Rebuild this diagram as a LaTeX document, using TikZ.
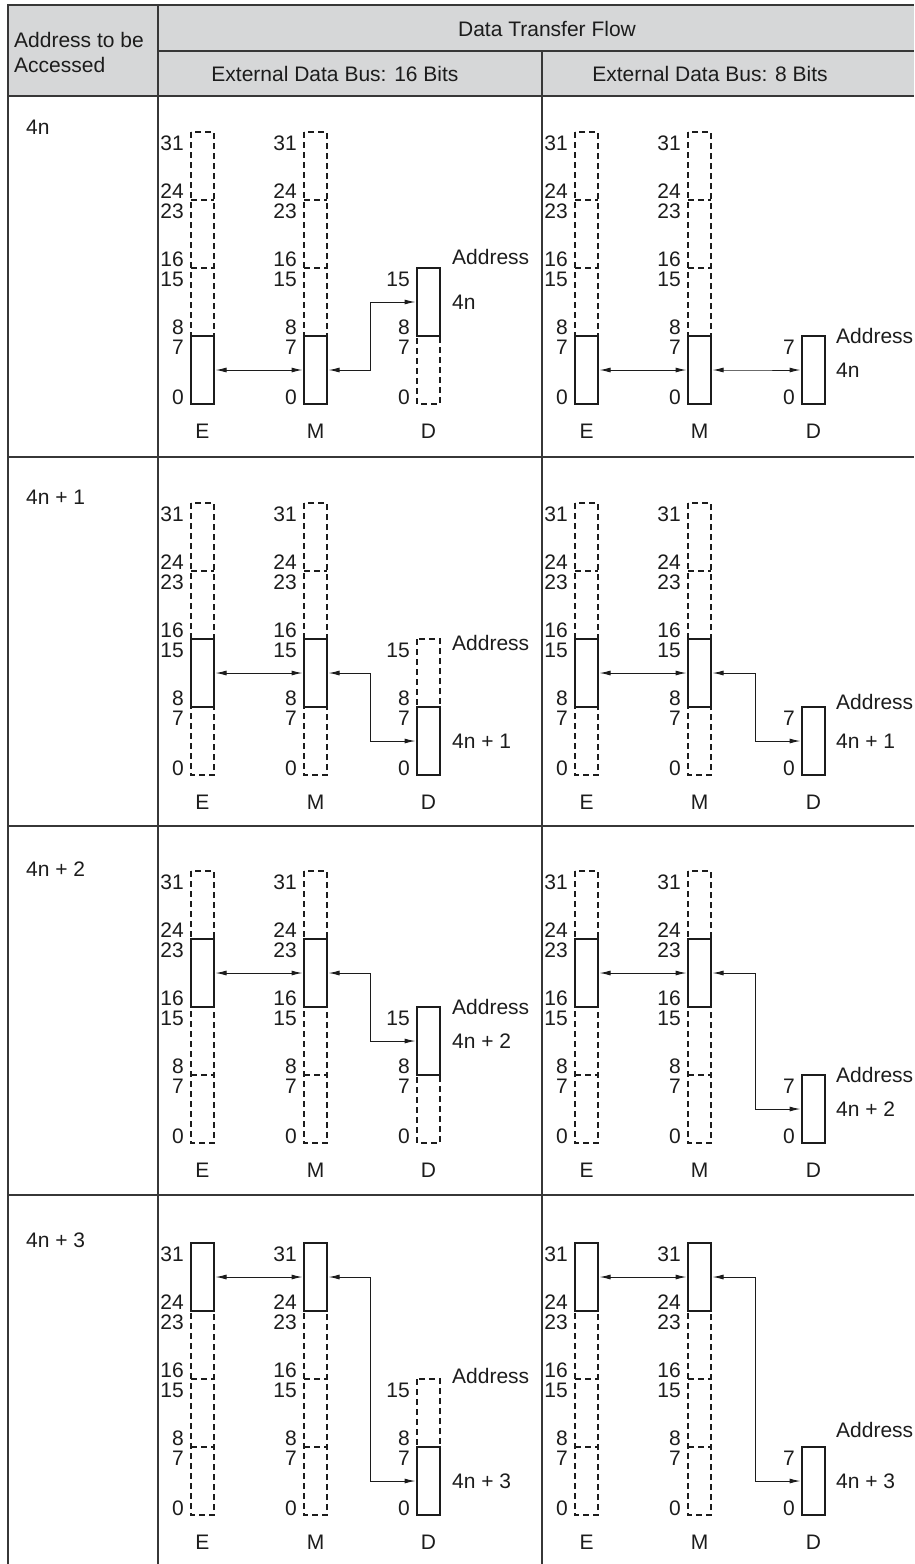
\documentclass[tikz,border=0pt]{standalone}
\usepackage{fontspec}
\setmainfont{Liberation Sans}
\usetikzlibrary{arrows.meta}
\definecolor{hdr}{RGB}{214,215,216}
\definecolor{ink}{RGB}{28,28,28}
\definecolor{rulec}{RGB}{55,55,55}
\tikzset{
  dsh/.style={draw=ink, line width=1.2pt, dash pattern=on 6pt off 4pt},
  solidbox/.style={draw=ink, line width=2.8pt, fill=white, minimum width=23pt, minimum height=68pt, inner sep=0pt, outer sep=0pt, anchor=north west},
  num/.style={anchor=east, inner sep=0pt, text=ink},
  lbl/.style={inner sep=0pt, text=ink},
  lblw/.style={anchor=west, inner sep=0pt, text=ink},
  arr/.style={draw=ink, line width=1pt, {Latex[length=11pt,width=5pt]}-{Latex[length=11pt,width=5pt]}, shorten <=1.5pt, shorten >=1.5pt},
  outerline/.style={draw=rulec, line width=2.8pt},
  innerline/.style={draw=rulec, line width=1.4pt},
}
% four-byte dashed column with its bit numbers
\newcommand\fourcol[3]{%
  \draw[dsh] (#2,#3) rectangle ++(23,272);
  \draw[dsh] (#2,{#3+68}) -- ++(23,0);
  \draw[dsh] (#2,{#3+136}) -- ++(23,0);
  \draw[dsh] (#2,{#3+204}) -- ++(23,0);
  \node[num] (#1n31) at ({#2-7},{#3+11}) {31};
  \node[num] (#1n24) at ({#2-7},{#3+59.5}) {24};
  \node[num] (#1n23) at ({#2-7},{#3+79}) {23};
  \node[num] (#1n16) at ({#2-7},{#3+127.5}) {16};
  \node[num] (#1n15) at ({#2-7},{#3+147}) {15};
  \node[num] (#1n8) at ({#2-7},{#3+195.5}) {8};
  \node[num] (#1n7) at ({#2-7},{#3+215}) {7};
  \node[num] (#1n0) at ({#2-7},{#3+265}) {0};
}
% two-byte dashed column (bits 15..0)
\newcommand\twocol[3]{%
  \draw[dsh] (#2,{#3+136}) rectangle ++(23,136);
  \draw[dsh] (#2,{#3+204}) -- ++(23,0);
  \node[num] (#1n15) at ({#2-7},{#3+147}) {15};
  \node[num] (#1n8) at ({#2-7},{#3+195.5}) {8};
  \node[num] (#1n7) at ({#2-7},{#3+215}) {7};
  \node[num] (#1n0) at ({#2-7},{#3+265}) {0};
}
% one-byte column labels (bits 7..0)
\newcommand\onecol[3]{%
  \node[num] (#1n7) at ({#2-7},{#3+215}) {7};
  \node[num] (#1n0) at ({#2-7},{#3+265}) {0};
}
% #1 prefix, #2 column top, #3 E/M byte, #4 D16 byte, #5 text, #6 label y, #7 addr16 offset, #8 addr8 offset
\newcommand\drawsec[8]{%
  \node[lblw] (#1lab) at (26,#6) {#5};
  % 16-bit bus
  \fourcol{#1E}{191}{#2}
  \fourcol{#1M}{304}{#2}
  \twocol{#1D}{417}{#2}
  \node[solidbox] (#1E) at (191,{#2+68*(3-#3)}) {};
  \node[solidbox] (#1M) at (304,{#2+68*(3-#3)}) {};
  \node[solidbox] (#1D) at (417,{#2+68*(3-#4)}) {};
  \draw[arr] (#1E.east) -- (#1M.west);
  \draw[arr] (#1M.east) -- ++(43,0) |- (#1D.west);
  \node[lbl] (#1El) at (202.5,{#2+299}) {E};
  \node[lbl] (#1Ml) at (315.5,{#2+299}) {M};
  \node[lbl] (#1Dl) at (428.5,{#2+299}) {D};
  \node[lblw] (#1a16) at (452,{#2+136+#7}) {Address};
  \node[lblw] (#1v16) at (452,{#2+68*(3-#4)+34}) {#5};
  % 8-bit bus
  \fourcol{#1e}{575}{#2}
  \fourcol{#1m}{688}{#2}
  \onecol{#1d}{802}{#2}
  \node[solidbox] (#1e) at (575,{#2+68*(3-#3)}) {};
  \node[solidbox] (#1m) at (688,{#2+68*(3-#3)}) {};
  \node[solidbox] (#1d) at (802,{#2+204}) {};
  \draw[arr] (#1e.east) -- (#1m.west);
  \draw[arr] (#1m.east) -- ++(44,0) |- (#1d.west);
  \node[lbl] (#1el) at (586.5,{#2+299}) {E};
  \node[lbl] (#1ml) at (699.5,{#2+299}) {M};
  \node[lbl] (#1dl) at (813.5,{#2+299}) {D};
  \node[lblw] (#1a8) at (836,{#2+204+#8}) {Address};
  \node[lblw] (#1v8) at (836,{#2+238}) {#5};
}
\begin{document}
\begin{tikzpicture}[x=1pt,y=-1pt,font=\fontsize{21}{25}\selectfont]
\useasboundingbox (0,0) rectangle (914,1564);
% header
\fill[hdr] (8,5) rectangle (914,96);
\draw[innerline] (8,96) -- (914,96);
\draw[innerline] (158,51) -- (914,51);
\draw[innerline] (158,5) -- (158,1564);
\draw[innerline] (542,51) -- (542,1564);
\foreach \yy in {457,826,1195} \draw[innerline] (8,\yy) -- (914,\yy);
\draw[outerline] (8,1564) -- (8,5) -- (914,5);
\node[lblw] (haddr1) at (14,40) {Address to be};
\node[lblw] (haddr2) at (14,65) {Accessed};
\node[lbl] (hflow) at (547,29) {Data Transfer Flow};
\node[lbl] (h16) at (335,74) {External Data Bus: 16 Bits};
\node[lbl] (h8) at (710,74) {External Data Bus: 8 Bits};
% sections
\drawsec{a}{132}{0}{1}{4n}{127}{-11}{0}
\drawsec{b}{503}{1}{0}{4n + 1}{497}{4}{-5}
\drawsec{c}{871}{2}{1}{4n + 2}{869}{0}{0}
\drawsec{d}{1243}{3}{0}{4n + 3}{1240}{-3}{-17}
\end{tikzpicture}
\end{document}
